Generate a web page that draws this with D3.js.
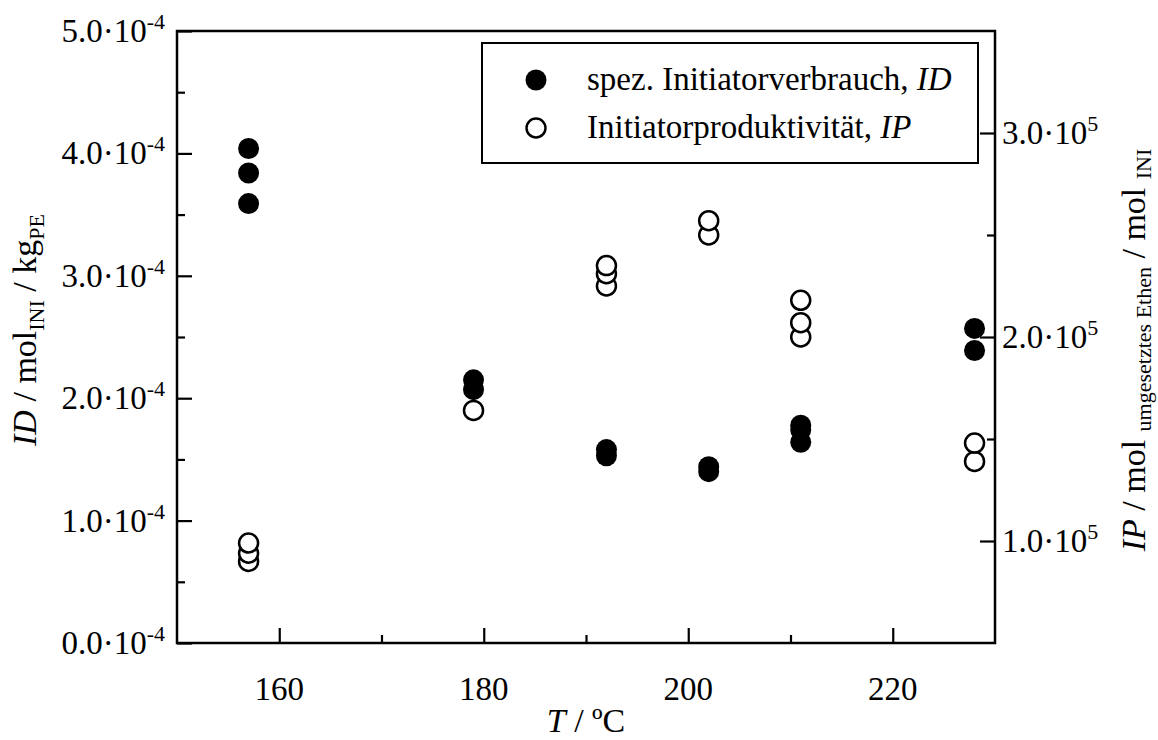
<!DOCTYPE html>
<html>
<head>
<meta charset="utf-8">
<script src="https://cdn.jsdelivr.net/npm/d3@7/dist/d3.min.js"></script>
<style>
  html, body { margin: 0; padding: 0; background: #fff; }
  svg { display: block; font-family: "Liberation Serif", "Times New Roman", serif; }
</style>
</head>
<body>
<svg id="chart" width="1158" height="740"></svg>
<script>
// ---- Data ----
const idTemps = [157, 157, 157, 179, 179, 192, 192, 202, 202, 211, 211, 211, 228, 228];
const idValues = [4.04e-4, 3.84e-4, 3.59e-4, 2.15e-4, 2.07e-4, 1.58e-4, 1.53e-4, 1.44e-4, 1.40e-4, 1.78e-4, 1.74e-4, 1.64e-4, 2.57e-4, 2.39e-4];
const ipTemps = [157, 157, 157, 179, 192, 192, 192, 202, 202, 211, 211, 211, 228, 228];
const ipValues = [0.99e5, 0.94e5, 0.90e5, 1.64e5, 2.35e5, 2.31e5, 2.25e5, 2.57e5, 2.50e5, 2.18e5, 2.07e5, 2.00e5, 1.48e5, 1.39e5];

const xMajor = [160, 180, 200, 220];
const xMinor = [170, 190, 210];
const leftMajor = [0, 1e-4, 2e-4, 3e-4, 4e-4, 5e-4];
const leftMajorLabels = ["0.0", "1.0", "2.0", "3.0", "4.0", "5.0"];
const leftExponent = "-4";
const leftMinor = [0.5e-4, 1.5e-4, 2.5e-4, 3.5e-4, 4.5e-4];
const rightMajor = [1e5, 2e5, 3e5];
const rightMajorLabels = ["1.0", "2.0", "3.0"];
const rightExponent = "5";
const rightMinor = [1.5e5, 2.5e5];

const legendLabels = [
  { text: "spez. Initiatorverbrauch, ", ital: "ID", filled: true },
  { text: "Initiatorproduktivität, ", ital: "IP", filled: false }
];

// ---- Layout ----
const L = 177, R = 995, T = 31, B = 643;
const svg = d3.select("#chart");

const x = d3.scaleLinear().domain([150, 230]).range([L, R]);
const yL = d3.scaleLinear().domain([0, 5e-4]).range([B, T]);
const yR = d3.scaleLinear().domain([0.5e5, 3.5e5]).range([B, T]);

const FS = 33;      // tick labels / legend
const FT = 34;      // axis titles
const FSUP = 22;

// ---- Axes ticks (inward) ----
function styleAxis(g) {
  g.select(".domain").remove();
  g.selectAll(".tick line").attr("stroke", "#000").attr("stroke-width", 2.2);
  g.selectAll(".tick text").remove();
}
svg.append("g").attr("transform", `translate(${L},0)`)
  .call(d3.axisLeft(yL).tickValues(leftMajor).tickSize(-15).tickFormat("")).call(styleAxis);
svg.append("g").attr("transform", `translate(${L},0)`)
  .call(d3.axisLeft(yL).tickValues(leftMinor).tickSize(-8).tickFormat("")).call(styleAxis);
svg.append("g").attr("transform", `translate(${R},0)`)
  .call(d3.axisRight(yR).tickValues(rightMajor).tickSize(-15).tickFormat("")).call(styleAxis);
svg.append("g").attr("transform", `translate(${R},0)`)
  .call(d3.axisRight(yR).tickValues(rightMinor).tickSize(-8).tickFormat("")).call(styleAxis);
svg.append("g").attr("transform", `translate(0,${B})`)
  .call(d3.axisBottom(x).tickValues(xMajor).tickSize(-15).tickFormat("")).call(styleAxis);
svg.append("g").attr("transform", `translate(0,${B})`)
  .call(d3.axisBottom(x).tickValues(xMinor).tickSize(-8).tickFormat("")).call(styleAxis);

// frame
svg.append("rect").attr("x", L).attr("y", T).attr("width", R - L).attr("height", B - T)
  .attr("fill", "none").attr("stroke", "#000").attr("stroke-width", 2.5);

// ---- Tick labels ----
leftMajor.forEach((v, i) => {
  const t = svg.append("text").attr("x", L - 12).attr("y", yL(v) + 11)
    .attr("text-anchor", "end").attr("font-size", FS);
  t.append("tspan").text(leftMajorLabels[i] + "·10");
  t.append("tspan").attr("font-size", FSUP).attr("dy", -13).text(leftExponent);
});
rightMajor.forEach((v, i) => {
  const t = svg.append("text").attr("x", R + 7).attr("y", yR(v) + 11)
    .attr("text-anchor", "start").attr("font-size", FS);
  t.append("tspan").text(rightMajorLabels[i] + "·10");
  t.append("tspan").attr("font-size", FSUP).attr("dy", -13).text(rightExponent);
});
xMajor.forEach(v => {
  svg.append("text").attr("x", x(v)).attr("y", B + 57)
    .attr("text-anchor", "middle").attr("font-size", FS).text(v);
});

// ---- Axis titles ----
const xt = svg.append("text").attr("x", (L + R) / 2).attr("y", B + 89)
  .attr("text-anchor", "middle").attr("font-size", FT);
xt.append("tspan").attr("font-style", "italic").text("T");
xt.append("tspan").text(" / ºC");

const lt = svg.append("text").attr("transform", `translate(36,330) rotate(-90)`)
  .attr("text-anchor", "middle").attr("font-size", FT);
lt.append("tspan").attr("font-style", "italic").text("ID");
lt.append("tspan").text(" / mol");
lt.append("tspan").attr("font-size", 22).attr("dy", 8).text("INI");
lt.append("tspan").attr("dy", -8).text(" / kg");
lt.append("tspan").attr("font-size", 22).attr("dy", 8).text("PE");

const rt = svg.append("text").attr("transform", `translate(1145,350) rotate(-90)`)
  .attr("text-anchor", "middle").attr("font-size", FT);
rt.append("tspan").attr("font-style", "italic").text("IP");
rt.append("tspan").text(" / mol ");
rt.append("tspan").attr("font-size", 22).attr("dy", 6).text("umgesetztes Ethen");
rt.append("tspan").attr("dy", -6).text(" / mol ");
rt.append("tspan").attr("font-size", 22).attr("dy", 6).text("INI");

// ---- Data points ----
const R_PT = 10.5;
const ipData = ipTemps.map((t, i) => ({ t, v: ipValues[i] })).sort((a, b) => a.v - b.v);
svg.append("g").selectAll("circle").data(ipData).join("circle")
  .attr("cx", d => x(d.t)).attr("cy", d => yR(d.v)).attr("r", R_PT - 1)
  .attr("fill", "#fff").attr("stroke", "#000").attr("stroke-width", 2.5);

const idData = idTemps.map((t, i) => ({ t, v: idValues[i] }));
svg.append("g").selectAll("circle").data(idData).join("circle")
  .attr("cx", d => x(d.t)).attr("cy", d => yL(d.v)).attr("r", R_PT)
  .attr("fill", "#000");

// ---- Legend ----
const lg = svg.append("g");
lg.append("rect").attr("x", 482).attr("y", 43).attr("width", 496).attr("height", 120)
  .attr("fill", "#fff").attr("stroke", "#000").attr("stroke-width", 2);
legendLabels.forEach((d, i) => {
  const cy = 80 + i * 48;
  lg.append("circle").attr("cx", 536).attr("cy", cy).attr("r", d.filled ? R_PT : R_PT - 1)
    .attr("fill", d.filled ? "#000" : "#fff").attr("stroke", d.filled ? "none" : "#000")
    .attr("stroke-width", 2.5);
  const t = lg.append("text").attr("x", 587).attr("y", cy + 10).attr("font-size", FS);
  t.append("tspan").text(d.text);
  t.append("tspan").attr("font-style", "italic").text(d.ital);
});
</script>
</body>
</html>
